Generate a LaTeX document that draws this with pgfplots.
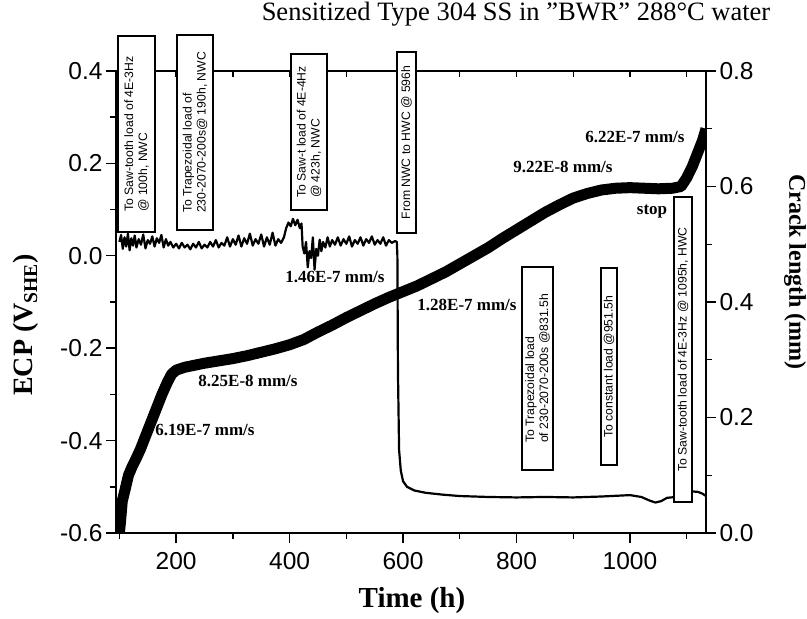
\documentclass[border=0pt]{standalone}
\usepackage{pgfplots}
\pgfplotsset{compat=1.18}
\usepackage{fontspec}
\setmainfont{Liberation Serif}
\newfontfamily\arial{Liberation Sans}

\pgfplotsset{
  common/.style={
    scale only axis, width=590pt, height=462pt,
    xmin=94, xmax=1134,
    axis line style={line width=1.6pt},
    tick style={line width=1.4pt, black},
    major tick length=10pt, minor tick length=6pt,
    ticklabel style={font=\arial\fontsize{24.5}{24.5}\selectfont},
  }
}

\begin{document}
\begin{tikzpicture}
% ---------- ECP (left axis) ----------
\begin{axis}[common,
  ymin=-0.6, ymax=0.4,
  axis x line*=bottom, axis y line*=left,
  tick align=outside,
  xtick={200,400,600,800,1000}, xticklabels={200,400,600,800,1000},
  minor xtick={100,300,500,700,900,1100},
  xticklabel style={yshift=-6pt},
  ytick={-0.6,-0.4,-0.2,0,0.2,0.4},
  yticklabels={-0.6,-0.4,-0.2,0.0,0.2,0.4},
  minor ytick={-0.5,-0.3,-0.1,0.1,0.3},
]
\addplot[black, line width=2.2pt, line join=round] coordinates {
(100,0.030)(103,0.045)(106,0.015)(109,0.040)(112,0.020)(115,0.048)(118,0.012)(121,0.038)(124,0.022)(127,0.044)
(130,0.018)(134,0.036)(138,0.024)(142,0.046)(146,0.016)(150,0.034)(154,0.026)(158,0.042)(162,0.020)(166,0.038)
(170,0.028)(174,0.045)(178,0.018)(182,0.036)(186,0.022)(190,0.030)(195,0.018)(200,0.026)(205,0.016)(210,0.028)
(215,0.018)(220,0.024)(225,0.014)(230,0.026)(235,0.018)(240,0.030)(245,0.016)(250,0.024)(255,0.018)(260,0.030)
(265,0.020)(270,0.034)(275,0.018)(280,0.028)(285,0.022)(290,0.040)(295,0.020)(300,0.036)(305,0.024)(310,0.044)
(315,0.020)(320,0.038)(325,0.026)(330,0.048)(335,0.022)(340,0.036)(345,0.026)(350,0.046)(355,0.020)(360,0.040)
(365,0.024)(370,0.050)(375,0.022)(380,0.036)(385,0.028)(390,0.040)(394,0.060)(398,0.072)(402,0.064)(406,0.080)
(410,0.066)(414,0.078)(418,0.060)(421,0.070)(423,0.020)(426,0.005)(429,0.030)(432,-0.025)(435,0.010)(438,-0.005)
(441,0.040)(444,-0.030)(447,0.015)(450,0.000)(453,0.035)(456,0.010)(459,0.030)(463,0.018)(467,0.040)(471,0.020)
(475,0.034)(480,0.024)(485,0.040)(490,0.022)(495,0.036)(500,0.026)(505,0.042)(510,0.020)(515,0.034)(520,0.026)
(525,0.040)(530,0.022)(535,0.036)(540,0.028)(545,0.042)(550,0.024)(555,0.034)(560,0.026)(565,0.040)(570,0.022)
(575,0.034)(580,0.028)(586,0.032)(589,0.030)(590,0.000)(591,-0.250)(593,-0.420)(596,-0.465)(600,-0.488)
(607,-0.500)(620,-0.508)(640,-0.513)(670,-0.517)(700,-0.520)(750,-0.522)(800,-0.523)(850,-0.522)(900,-0.523)(950,-0.521)
(1000,-0.518)(1020,-0.522)(1035,-0.530)(1045,-0.534)(1055,-0.531)(1065,-0.524)(1080,-0.522)(1090,-0.520)(1100,-0.513)
(1110,-0.510)(1120,-0.511)(1128,-0.515)(1134,-0.520)
};
\end{axis}
% ---------- top frame ----------
\begin{axis}[common,
  ymin=-0.6, ymax=0.4,
  axis x line*=top, axis y line=none,
  tick align=inside,
  xtick={200,300,...,1100}, xticklabels={},
  major tick length=6pt,
]
\end{axis}
% ---------- Crack length (right axis) ----------
\begin{axis}[common,
  ymin=0, ymax=0.8,
  axis y line*=right, axis x line=none,
  tick align=outside,
  ytick={0,0.2,0.4,0.6,0.8},
  yticklabels={0.0,0.2,0.4,0.6,0.8},
  minor ytick={0.1,0.3,0.5,0.7},
]
\addplot[black, line width=11pt, line join=round] coordinates {
(100,0.000)(102,0.020)(105,0.055)(110,0.075)(116,0.100)(122,0.114)(130,0.130)(137,0.145)(145,0.165)(155,0.190)
(165,0.215)(175,0.240)(185,0.262)(192,0.275)(200,0.282)(215,0.287)(230,0.290)(250,0.294)(275,0.298)(300,0.302)
(325,0.307)(350,0.313)(375,0.319)(400,0.326)(425,0.335)(450,0.348)(475,0.360)(500,0.373)(525,0.385)(550,0.397)
(575,0.408)(600,0.418)(625,0.428)(650,0.440)(675,0.452)(700,0.466)(725,0.480)(750,0.494)(775,0.510)(800,0.525)
(825,0.540)(850,0.555)(875,0.568)(900,0.580)(925,0.588)(950,0.594)(975,0.597)(1000,0.598)(1025,0.597)(1050,0.596)
(1075,0.597)(1090,0.600)(1100,0.615)(1110,0.635)(1120,0.660)(1128,0.680)(1134,0.700)
};
\end{axis}
% ---------- annotation boxes ----------
\tikzset{bx/.style={draw=black, fill=white, line width=1.1pt},
         bt/.style={rotate=90, align=left, font=\arial\fontsize{12.2}{14}\selectfont, inner sep=0pt}}
\draw[bx] (2pt,301pt) rectangle (39pt,497pt);
\node[bt] at (20.5pt,399pt) {To Saw-tooth load of 4E-3Hz\\@ 100h, NWC};
\draw[bx] (61pt,303pt) rectangle (97pt,498pt);
\node[bt] at (79pt,400.5pt) {To Trapezoidal load of\\230-2070-200s@ 190h, NWC};
\draw[bx] (175pt,323pt) rectangle (211pt,479pt);
\node[bt] at (193pt,401pt) {To Saw-t load of 4E-4Hz\\@ 423h, NWC};
\draw[bx] (281pt,300pt) rectangle (300pt,481pt);
\node[bt] at (290.5pt,390.5pt) {From NWC to HWC @ 596h};
\draw[bx] (406pt,63pt) rectangle (437pt,266pt);
\node[bt] at (421.5pt,164.5pt) {To Trapezoidal load\\of 230-2070-200s @831.5h};
\draw[bx] (485pt,68pt) rectangle (501pt,265pt);
\node[bt] at (493pt,166.5pt) {To constant load @951.5h};
\draw[bx] (558pt,31pt) rectangle (576pt,336pt);
\node[bt] at (567pt,183.5pt) {To Saw-tooth load of 4E-3Hz @ 1095h, HWC};
% ---------- rate labels ----------
\tikzset{rl/.style={font=\bfseries\fontsize{17}{17}\selectfont, inner sep=0pt}}
\node[rl] at (447pt,366pt) {9.22E-8 mm/s};
\node[rl] at (519pt,396pt) {6.22E-7 mm/s};
\node[rl] at (536pt,321pt) {stop};
\node[rl] at (219pt,256pt) {1.46E-7 mm/s};
\node[rl] at (351pt,228pt) {1.28E-7 mm/s};
\node[rl] at (132pt,152pt) {8.25E-8 mm/s};
\node[rl] at (89pt,103pt) {6.19E-7 mm/s};
% ---------- titles ----------
\node[font=\fontsize{26.5}{26.5}\selectfont] at (400pt,519pt) {Sensitized Type 304 SS in "BWR" 288\textdegree C water};
\node[rotate=90, font=\bfseries\fontsize{28}{28}\selectfont] at (-90pt,208pt) {ECP (V\textsubscript{SHE})};
\node[rotate=-90, font=\bfseries\fontsize{24}{24}\selectfont] at (679pt,261pt) {Crack length (mm)};
\node[font=\bfseries\fontsize{29}{29}\selectfont] at (296pt,-68pt) {Time (h)};
\pgfresetboundingbox
\path[use as bounding box] (-116pt,-86pt) rectangle (691pt,533pt);
\end{tikzpicture}
\end{document}
